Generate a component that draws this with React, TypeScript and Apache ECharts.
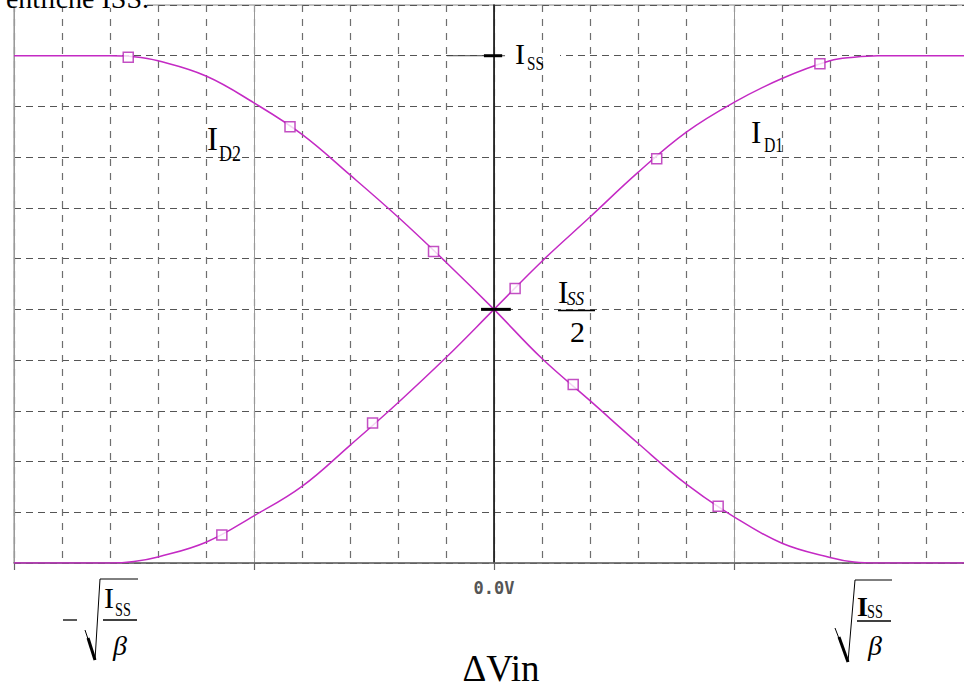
import React, { useEffect, useRef } from "react";
import * as echarts from "echarts";

// Differential pair transfer curves: drain currents vs. differential input voltage.
// ΔVin in grid divisions (sqrt(Iss/β) at ±8), currents normalized to Iss.
const deltaVin = [-10, -9, -8, -7.5, -7, -6, -5, -4, -3, -2, -1, 0, 1, 2, 3, 4, 5, 6, 7, 7.5, 8, 9, 10];
const id1 = [0, 0, 0, 0.003, 0.012, 0.041, 0.093, 0.151, 0.232, 0.316, 0.405, 0.5, 0.595, 0.682, 0.77, 0.849, 0.908, 0.955, 0.99, 0.997, 1, 1, 1];
const id2 = [1, 1, 1, 0.998, 0.99, 0.96, 0.907, 0.845, 0.765, 0.682, 0.593, 0.5, 0.403, 0.32, 0.236, 0.156, 0.091, 0.039, 0.011, 0.002, 0, 0, 0];

// Probe markers along each trace
const id1MarkX = [-5.67, -2.53, 0.44, 3.39, 6.79];
const id1MarkY = [0.055, 0.276, 0.541, 0.797, 0.984];
const id2MarkX = [-7.62, -4.25, -1.26, 1.65, 4.67];
const id2MarkY = [0.997, 0.86, 0.614, 0.352, 0.112];

const xMin = -10;
const xMax = 10;
const yMax = 1.1;

const serif = '"Liberation Serif", "Times New Roman", serif';
const traceColor = "#c42ac4";
const markColor = "#b423b4";

function txt(text: string, x: number, y: number, font: string, extra: any = {}) {
  const { align, scaleX, ...rest } = extra;
  return {
    type: "text",
    x,
    y,
    scaleX: scaleX ?? 1,
    z: 50,
    style: { text, font, fill: "#000", align: align ?? "left", verticalAlign: "middle", ...rest },
  };
}

function seg(x1: number, y1: number, x2: number, y2: number, w: number) {
  return { type: "line", z: 50, shape: { x1, y1, x2, y2 }, style: { stroke: "#000", lineWidth: w } };
}

export default function App() {
  const ref = useRef<HTMLDivElement>(null);

  useEffect(() => {
    if (!ref.current) return;
    const chart = echarts.init(ref.current, null, { renderer: "svg" });

    const lineBase = {
      type: "line",
      showSymbol: false,
      symbol: "none",
      smooth: 0.4,
      lineStyle: { color: traceColor, width: 1.5 },
      z: 3,
    };

    const markerBase = {
      type: "scatter",
      symbol: "rect",
      symbolSize: 10,
      itemStyle: { color: "#fff", borderColor: markColor, borderWidth: 1.5 },
      z: 4,
    };

    const tickBase = { type: "line", symbol: "none", z: 5, clip: false };

    chart.setOption({
      animation: false,
      backgroundColor: "#fff",
      grid: {
        left: 14,
        top: 5,
        width: 960,
        height: 558,
        show: true,
        borderColor: "#888",
        borderWidth: 1,
      },
      xAxis: [
        {
          type: "value",
          min: xMin,
          max: xMax,
          interval: 1,
          axisLine: { show: true, onZero: false, lineStyle: { color: "#666", width: 1.5 } },
          axisTick: { show: false },
          axisLabel: {
            margin: 16,
            fontFamily: '"DejaVu Sans Mono", monospace',
            fontWeight: "bold",
            fontSize: 17,
            color: "#555",
            formatter: (v: number) => (v === 0 ? "0.0V" : ""),
          },
          splitLine: { show: true, lineStyle: { color: "#6e6e6e", type: [7, 7], width: 1.2 } },
        },
        {
          type: "value",
          min: xMin,
          max: xMax,
          interval: 5,
          position: "bottom",
          axisLine: { show: false },
          axisTick: { show: true, length: 7, lineStyle: { color: "#666", width: 1.2 } },
          axisLabel: { show: false },
          splitLine: { show: true, lineStyle: { color: "#999", type: "solid", width: 1 } },
        },
      ],
      yAxis: {
        type: "value",
        min: 0,
        max: yMax,
        interval: 0.1,
        axisLine: { show: true, onZero: true, onZeroAxisIndex: 0, lineStyle: { color: "#000", width: 1.5 } },
        axisTick: { show: false },
        axisLabel: { show: false },
        splitLine: { show: true, lineStyle: { color: "#555", type: [7, 5], width: 1.2 } },
      },
      series: [
        { ...lineBase, name: "ID1", data: deltaVin.map((x, i) => [x, id1[i]]) },
        { ...lineBase, name: "ID2", data: deltaVin.map((x, i) => [x, id2[i]]) },
        { ...markerBase, name: "ID1 markers", data: id1MarkX.map((x, i) => [x, id1MarkY[i]]) },
        { ...markerBase, name: "ID2 markers", data: id2MarkX.map((x, i) => [x, id2MarkY[i]]) },
        { ...tickBase, name: "Iss level", data: [[-0.98, 1], [0.23, 1]], lineStyle: { color: "#444", width: 1 } },
        { ...tickBase, name: "Iss tick", data: [[-0.21, 1], [0.17, 1]], lineStyle: { color: "#000", width: 3 } },
        { ...tickBase, name: "Iss/2 tick", data: [[-0.27, 0.5], [0.35, 0.5]], lineStyle: { color: "#000", width: 3 } },
      ],
      graphic: [
        // running text of the page above the plot
        { type: "rect", z: 49, shape: { x: 0, y: 0, width: 147, height: 8 }, style: { fill: "#fff" } },
        txt("entliche ISS.", 149, -2, `28px ${serif}`, { align: "right" }),

        // Iss at the top of the centre axis
        { type: "rect", z: 49, shape: { x: 506, y: 53, width: 54, height: 6 }, style: { fill: "#fff" } },
        txt("I", 515, 53, `30px ${serif}`),
        txt("SS", 527, 64, `19px ${serif}`, { scaleX: 0.8 }),

        // trace names
        txt("I", 207, 139, `33px ${serif}`),
        txt("D2", 219, 153, `23px ${serif}`, { scaleX: 0.78 }),
        txt("I", 751, 132.5, `31px ${serif}`),
        txt("D1", 764, 145, `21px ${serif}`, { scaleX: 0.75 }),

        // Iss / 2 at the crossing point
        txt("I", 558, 292.5, `31px ${serif}`),
        txt("SS", 567, 299, `italic 19px ${serif}`, { scaleX: 0.9 }),
        seg(558, 310.5, 595, 310.5, 1.5),
        txt("2", 577.5, 331.5, `30px ${serif}`, { align: "center" }),

        // -sqrt(Iss/β)
        seg(63, 620, 77, 620, 1.3),
        { type: "polyline", z: 50, shape: { points: [[85, 630], [95, 660], [100, 579], [138, 579]] }, style: { stroke: "#000", fill: null, lineWidth: 1 } },
        seg(88, 638, 95, 660, 3),
        txt("I", 104, 597.5, `30px ${serif}`),
        txt("SS", 115, 610, `19px ${serif}`, { scaleX: 0.75 }),
        seg(103, 620, 137, 620, 1.3),
        txt("β", 120, 645, `italic 28px ${serif}`, { align: "center" }),

        // +sqrt(Iss/β)
        { type: "polyline", z: 50, shape: { points: [[835, 628], [848, 662], [855, 580], [892, 580]] }, style: { stroke: "#000", fill: null, lineWidth: 1 } },
        seg(839, 637, 848, 662, 3),
        txt("I", 857, 606.5, `bold 28px ${serif}`),
        txt("SS", 867, 612, `19px ${serif}`, { scaleX: 0.75 }),
        seg(857, 621, 891, 621, 1.3),
        txt("β", 875, 645, `italic 28px ${serif}`, { align: "center" }),

        // axis title
        txt("ΔVin", 501, 668, `37px ${serif}`, { align: "center" }),
      ],
    });

    return () => chart.dispose();
  }, []);

  return (
    <div style={{ position: "absolute", left: 0, top: 0, width: 964, height: 688, overflow: "hidden", background: "#fff" }}>
      <div ref={ref} style={{ width: 990, height: 688 }} />
    </div>
  );
}
